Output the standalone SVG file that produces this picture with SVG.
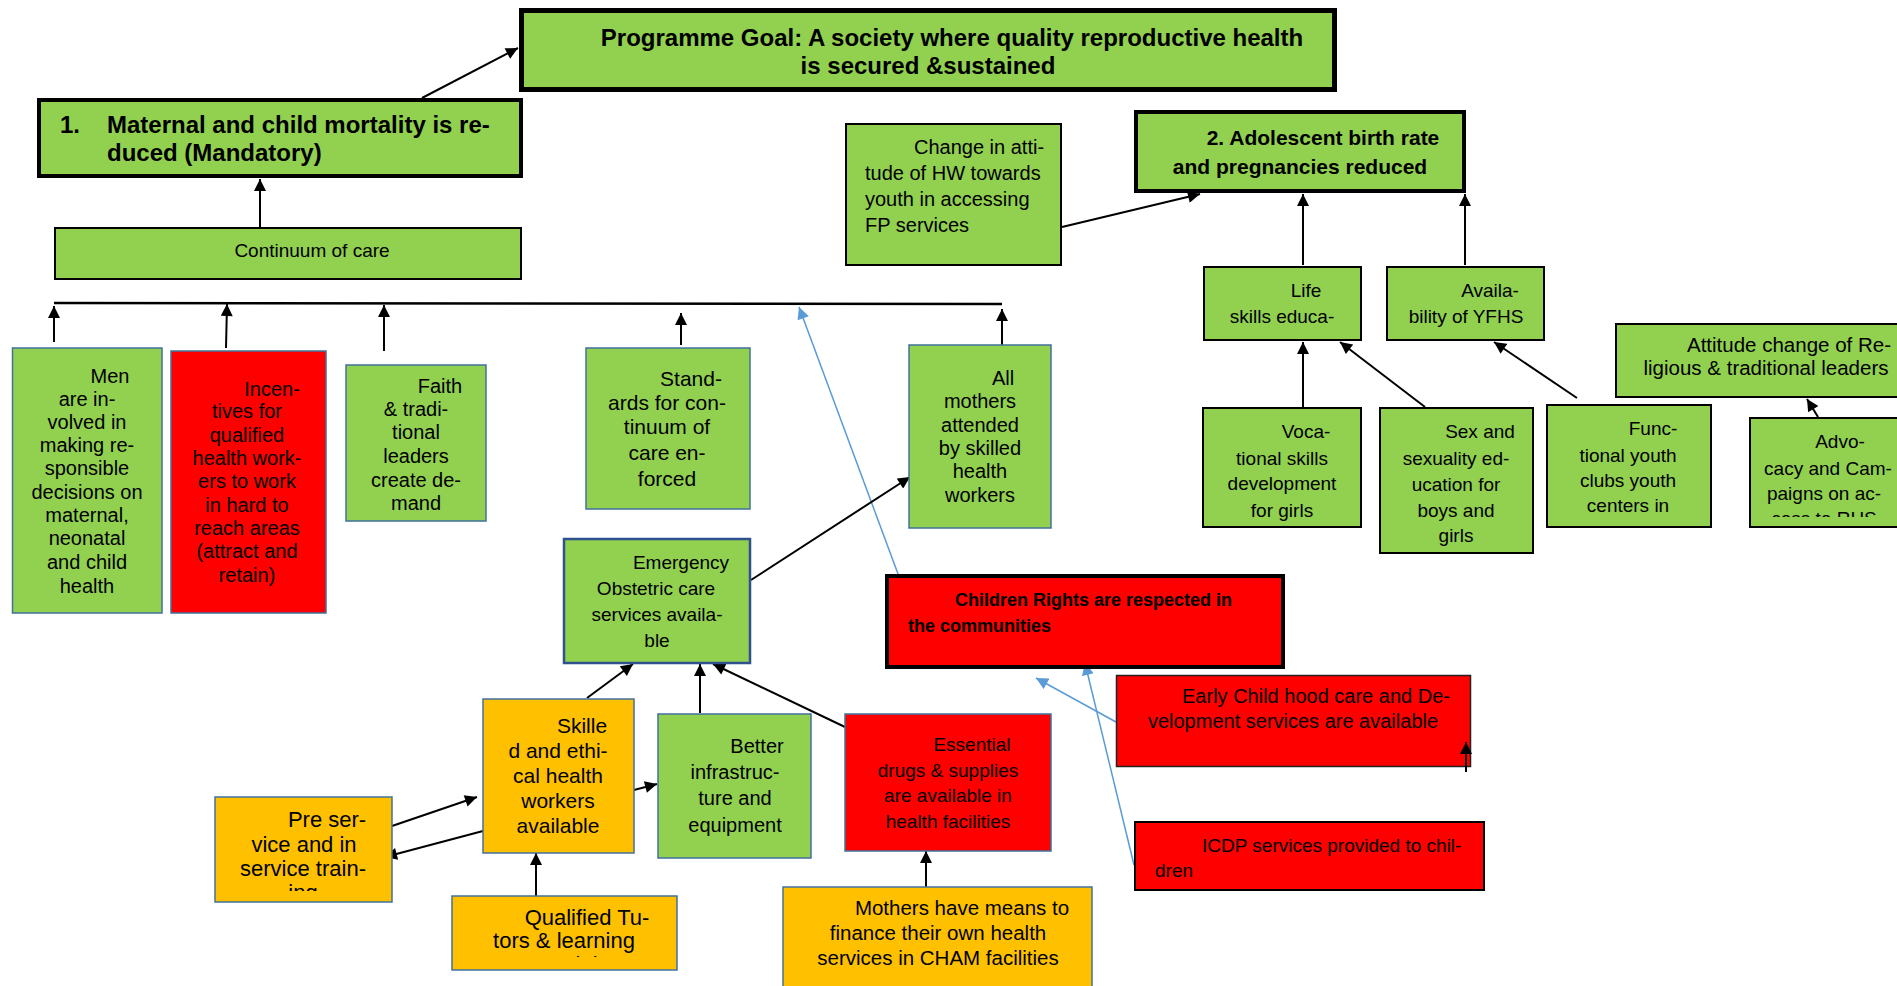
<svg xmlns="http://www.w3.org/2000/svg" width="1897" height="986" viewBox="0 0 1897 986">
<style>
text{font-family:"Liberation Sans",Arial,sans-serif;fill:#000}
.c{text-anchor:middle}
.b{font-weight:bold}
.g{fill:#92D050}
.o{fill:#FFC000}
.r{fill:#FF0000}
.k2{stroke:#000;stroke-width:2}
.k4{stroke:#000;stroke-width:4}
.bl{stroke:#41719C;stroke-width:1.5}
.ar{fill:none;stroke:#000;stroke-width:2;marker-end:url(#ah)}
.ab{fill:none;stroke:#5B9BD5;stroke-width:1.5;marker-end:url(#ahb)}
.f18{font-size:18px}.f19{font-size:19px}.f20{font-size:20px}.f21{font-size:21px}.f22{font-size:22px}
</style>
<defs>
<marker id="ah" viewBox="0 0 10 10" refX="10" refY="5" markerWidth="13" markerHeight="12" markerUnits="userSpaceOnUse" orient="auto"><path d="M0,0L10,5L0,10z" fill="#000"/></marker>
<marker id="ahb" viewBox="0 0 10 10" refX="10" refY="5" markerWidth="13" markerHeight="12" markerUnits="userSpaceOnUse" orient="auto"><path d="M0,0L10,5L0,10z" fill="#5B9BD5"/></marker>
<clipPath id="cpPre"><rect x="215" y="797" width="177" height="94"/></clipPath>
<clipPath id="cpTut"><rect x="452" y="896" width="225" height="61"/></clipPath>
<clipPath id="cpAdv"><rect x="1749" y="417" width="150" height="100"/></clipPath>
</defs>
<rect width="1897" height="986" fill="#fff"/>

<g id="connectors">
<line class="ar" x1="422" y1="98" x2="518" y2="48"/>
<line class="ar" x1="260" y1="227" x2="260" y2="179"/>
<line class="ar" x1="1062" y1="227" x2="1200" y2="194"/>
<line class="ar" x1="1303" y1="265" x2="1303" y2="194"/>
<line class="ar" x1="1465" y1="265" x2="1465" y2="194"/>
<line class="ar" x1="1303" y1="407" x2="1303" y2="342"/>
<line class="ar" x1="1425" y1="407" x2="1340" y2="342"/>
<line class="ar" x1="1577" y1="398" x2="1494" y2="342"/>
<line class="ar" x1="1818" y1="417" x2="1807" y2="399"/>
<line x1="54" y1="303" x2="1002" y2="304" stroke="#000" stroke-width="2.5"/>
<line class="ar" x1="54" y1="342" x2="54" y2="306"/>
<line class="ar" x1="226" y1="348" x2="227" y2="304"/>
<line class="ar" x1="384" y1="351" x2="384" y2="305"/>
<line class="ar" x1="681" y1="345" x2="681" y2="313"/>
<line class="ar" x1="1002" y1="345" x2="1002" y2="309"/>
<line class="ab" x1="901" y1="582" x2="799" y2="307"/>
<line class="ar" x1="751" y1="580" x2="910" y2="477"/>
<line class="ar" x1="587" y1="698" x2="633" y2="664"/>
<line class="ar" x1="700" y1="713" x2="700" y2="664"/>
<line class="ar" x1="845" y1="727" x2="713" y2="664"/>
<line class="ar" x1="392" y1="826" x2="477" y2="797"/>
<line class="ar" x1="483" y1="831" x2="385" y2="857"/>
<line class="ar" x1="634" y1="790" x2="657" y2="784"/>
<line class="ar" x1="536" y1="896" x2="536" y2="853"/>
<line class="ar" x1="926" y1="887" x2="926" y2="851"/>
<line class="ab" x1="1116" y1="722" x2="1036" y2="678"/>
<line class="ab" x1="1134" y1="865" x2="1085" y2="663"/>
</g>

<g id="goal">
<rect x="521.5" y="10.5" width="813" height="79" class="g" stroke="#000" stroke-width="5"/>
<text class="b c" font-size="24"><tspan x="952" y="46">Programme Goal: A society where quality reproductive health</tspan><tspan x="928" y="74">is secured &amp;sustained</tspan></text>
</g>

<g id="outcome1">
<rect x="39" y="100" width="482" height="76" class="g k4"/>
<text class="b" font-size="24"><tspan x="60" y="133">1.</tspan><tspan x="107" y="133">Maternal and child mortality is re-</tspan><tspan x="107" y="161">duced (Mandatory)</tspan></text>
</g>

<g id="continuum">
<rect x="55" y="228" width="466" height="51" class="g k2"/>
<text class="c f19" x="312" y="257">Continuum of care</text>
</g>

<g id="change-attitude">
<rect x="846" y="124" width="215" height="141" class="g k2"/>
<text class="f20"><tspan x="914" y="154">Change in atti-</tspan><tspan x="865" y="180">tude of HW towards</tspan><tspan x="865" y="206">youth in accessing</tspan><tspan x="865" y="232">FP services</tspan></text>
</g>

<g id="outcome2">
<rect x="1136" y="112" width="328" height="79" class="g k4"/>
<text class="b c f21"><tspan x="1323" y="145">2. Adolescent birth rate</tspan><tspan x="1300" y="174">and pregnancies reduced</tspan></text>
</g>

<g id="life-skills">
<rect x="1204" y="267" width="157" height="73" class="g k2"/>
<text class="c f19"><tspan x="1306" y="297">Life</tspan><tspan x="1282" y="323">skills educa-</tspan></text>
</g>

<g id="yfhs">
<rect x="1387" y="267" width="157" height="73" class="g k2"/>
<text class="c f19"><tspan x="1490" y="297">Availa-</tspan><tspan x="1466" y="323">bility of YFHS</tspan></text>
</g>

<g id="attitude-leaders">
<rect x="1616" y="324" width="290" height="73" class="g k2"/>
<text class="c" font-size="20.5"><tspan x="1789" y="352">Attitude change of Re-</tspan><tspan x="1766" y="375">ligious &amp; traditional leaders</tspan></text>
</g>

<g id="vocational">
<rect x="1203" y="408" width="158" height="119" class="g k2"/>
<text class="c f19"><tspan x="1306" y="438">Voca-</tspan><tspan x="1282" y="465">tional skills</tspan><tspan x="1282" y="490">development</tspan><tspan x="1282" y="517">for girls</tspan></text>
</g>

<g id="sex-education">
<rect x="1380" y="408" width="153" height="145" class="g k2"/>
<text class="c f19"><tspan x="1480" y="438">Sex and</tspan><tspan x="1456" y="465">sexuality ed-</tspan><tspan x="1456" y="491">ucation for</tspan><tspan x="1456" y="517">boys and</tspan><tspan x="1456" y="542">girls</tspan></text>
</g>

<g id="youth-clubs">
<rect x="1547" y="405" width="164" height="122" class="g k2"/>
<text class="c f19"><tspan x="1653" y="435">Func-</tspan><tspan x="1628" y="462">tional youth</tspan><tspan x="1628" y="487">clubs youth</tspan><tspan x="1628" y="512">centers in</tspan></text>
</g>

<g id="advocacy">
<rect x="1750" y="418" width="156" height="109" class="g k2"/>
<text class="c f19" clip-path="url(#cpAdv)"><tspan x="1840" y="448">Advo-</tspan><tspan x="1828" y="475">cacy and Cam-</tspan><tspan x="1824" y="500">paigns on ac-</tspan><tspan x="1824" y="525">cess to RHS</tspan></text>
</g>

<g id="men-involved">
<rect x="12.5" y="348" width="149.5" height="265" class="g bl"/>
<text class="c f20"><tspan x="110" y="383">Men</tspan><tspan x="87" y="406">are in-</tspan><tspan x="87" y="429">volved in</tspan><tspan x="87" y="452">making re-</tspan><tspan x="87" y="475">sponsible</tspan><tspan x="87" y="499">decisions on</tspan><tspan x="87" y="522">maternal,</tspan><tspan x="87" y="545">neonatal</tspan><tspan x="87" y="569">and child</tspan><tspan x="87" y="593">health</tspan></text>
</g>

<g id="incentives">
<rect x="171" y="351" width="155" height="262" class="r bl"/>
<text class="c f20"><tspan x="272" y="396">Incen-</tspan><tspan x="247" y="418">tives for</tspan><tspan x="247" y="442">qualified</tspan><tspan x="247" y="465">health work-</tspan><tspan x="247" y="488">ers to work</tspan><tspan x="247" y="512">in hard to</tspan><tspan x="247" y="535">reach areas</tspan><tspan x="247" y="558">(attract and</tspan><tspan x="247" y="582">retain)</tspan></text>
</g>

<g id="faith-leaders">
<rect x="346" y="365" width="140" height="156" class="g bl"/>
<text class="c f20"><tspan x="440" y="393">Faith</tspan><tspan x="416" y="416">&amp; tradi-</tspan><tspan x="416" y="439">tional</tspan><tspan x="416" y="463">leaders</tspan><tspan x="416" y="487">create de-</tspan><tspan x="416" y="510">mand</tspan></text>
</g>

<g id="standards">
<rect x="586" y="348" width="164" height="161" class="g bl"/>
<text class="c f21"><tspan x="691" y="386">Stand-</tspan><tspan x="667" y="410">ards for con-</tspan><tspan x="667" y="434">tinuum of</tspan><tspan x="667" y="460">care en-</tspan><tspan x="667" y="486">forced</tspan></text>
</g>

<g id="skilled-attendance">
<rect x="909" y="345" width="142" height="183" class="g bl"/>
<text class="c f20"><tspan x="1003" y="385">All</tspan><tspan x="980" y="408">mothers</tspan><tspan x="980" y="432">attended</tspan><tspan x="980" y="455">by skilled</tspan><tspan x="980" y="478">health</tspan><tspan x="980" y="502">workers</tspan></text>
</g>

<g id="emoc">
<rect x="564" y="539" width="186" height="124" class="g" stroke="#2F528F" stroke-width="2.5"/>
<text class="c f19"><tspan x="681" y="569">Emergency</tspan><tspan x="656" y="595">Obstetric care</tspan><tspan x="657" y="621">services availa-</tspan><tspan x="657" y="647">ble</tspan></text>
</g>

<g id="children-rights">
<rect x="887" y="576" width="396" height="91" class="r k4"/>
<text class="b f18"><tspan x="955" y="606">Children Rights are respected in</tspan><tspan x="908" y="632">the communities</tspan></text>
</g>

<g id="ecd">
<rect x="1116.5" y="675.5" width="354" height="91" class="r" stroke="#222" stroke-width="1.5"/>
<text class="c f20"><tspan x="1316" y="703">Early Child hood care and De-</tspan><tspan x="1293" y="728">velopment services are available</tspan></text>
<line class="ar" x1="1466" y1="772" x2="1466" y2="742"/>
</g>

<g id="icdp">
<rect x="1135" y="822" width="349" height="68" class="r k2"/>
<text class="f19"><tspan x="1202" y="852">ICDP services provided to chil-</tspan><tspan x="1155" y="877">dren</tspan></text>
</g>

<g id="essential-drugs">
<rect x="845" y="714" width="206" height="137" class="r bl"/>
<text class="c f19"><tspan x="972" y="751">Essential</tspan><tspan x="948" y="777">drugs &amp; supplies</tspan><tspan x="948" y="802">are available in</tspan><tspan x="948" y="828">health facilities</tspan></text>
</g>

<g id="infrastructure">
<rect x="658" y="714" width="153" height="144" class="g bl"/>
<text class="c f20"><tspan x="757" y="753">Better</tspan><tspan x="735" y="779">infrastruc-</tspan><tspan x="735" y="805">ture and</tspan><tspan x="735" y="832">equipment</tspan></text>
</g>

<g id="skilled-workers">
<rect x="483" y="699" width="151" height="154" class="o bl"/>
<text class="c f21"><tspan x="582" y="733">Skille</tspan><tspan x="558" y="758">d and ethi-</tspan><tspan x="558" y="783">cal health</tspan><tspan x="558" y="808">workers</tspan><tspan x="558" y="833">available</tspan></text>
</g>

<g id="training">
<rect x="215" y="797" width="177" height="105" class="o bl"/>
<text class="c f22" clip-path="url(#cpPre)"><tspan x="327" y="827">Pre ser-</tspan><tspan x="304" y="852">vice and in</tspan><tspan x="303" y="876">service train-</tspan><tspan x="303" y="900">ing</tspan></text>
</g>

<g id="tutors">
<rect x="452" y="896" width="225" height="74" class="o bl"/>
<text class="c f22" clip-path="url(#cpTut)"><tspan x="587" y="925">Qualified Tu-</tspan><tspan x="564" y="948">tors &amp; learning</tspan><tspan x="564" y="972">materials</tspan></text>
</g>

<g id="mothers-finance">
<rect x="783" y="887" width="309" height="110" class="o bl"/>
<text class="c" font-size="20.5"><tspan x="962" y="915">Mothers have means to</tspan><tspan x="938" y="940">finance their own health</tspan><tspan x="938" y="965">services in CHAM facilities</tspan></text>
</g>
</svg>
